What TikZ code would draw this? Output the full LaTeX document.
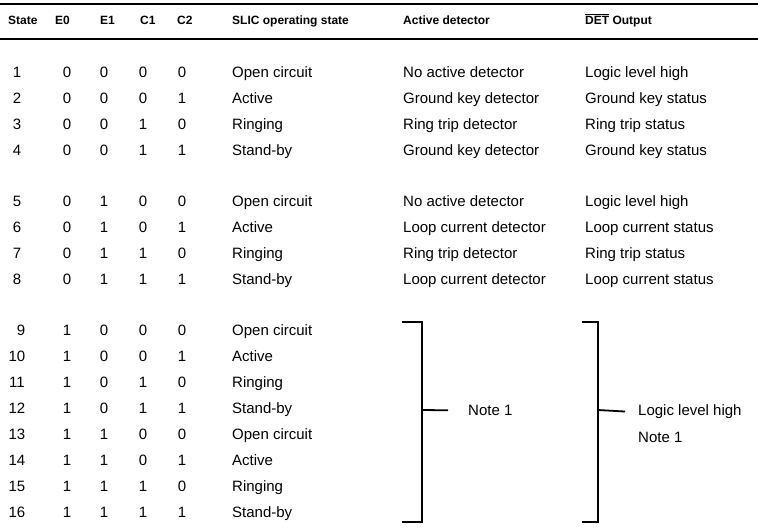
\documentclass[tikz,border=0pt]{standalone}
\usepackage{fontspec}
\setmainfont{Liberation Sans}
\begin{document}
\begin{tikzpicture}[x=1pt,y=-1pt,
    hd/.style={font=\fontsize{12}{14}\selectfont\bfseries,anchor=base west,inner sep=0pt},
    txt/.style={font=\fontsize{15}{18}\selectfont,anchor=base west,inner sep=0pt},
    num/.style={font=\fontsize{15}{18}\selectfont,anchor=base,inner sep=0pt},
    rule/.style={line width=1.4pt},
    bracket/.style={line width=1.8pt}]
  \useasboundingbox (0,0) rectangle (758,532);
  % header
  \draw[rule] (0,4) -- (758,4);
  \node[hd] (hstate) at (8,24.3) {State};
  \node[hd] (he0) at (55,24.3) {E0};
  \node[hd] (he1) at (100,24.3) {E1};
  \node[hd] (hc1) at (140,24.3) {C1};
  \node[hd] (hc2) at (177,24.3) {C2};
  \node[hd] (hslic) at (232,24.3) {SLIC operating state};
  \node[hd] (hdet) at (403,24.3) {Active detector};
  \node[hd] (hout) at (585,24.3) {$\overline{\mbox{DET}}$ Output};
  \draw[rule] (0,39) -- (758,39);
  % states 1 to 8
  \foreach \n/\yy/\a/\b/\c/\d/\mode/\det/\out in {
      1/72/0/0/0/0/Open circuit/No active detector/Logic level high,
      2/98/0/0/0/1/Active/Ground key detector/Ground key status,
      3/124/0/0/1/0/Ringing/Ring trip detector/Ring trip status,
      4/150/0/0/1/1/Stand-by/Ground key detector/Ground key status,
      5/201/0/1/0/0/Open circuit/No active detector/Logic level high,
      6/227/0/1/0/1/Active/Loop current detector/Loop current status,
      7/253/0/1/1/0/Ringing/Ring trip detector/Ring trip status,
      8/279/0/1/1/1/Stand-by/Loop current detector/Loop current status} {
    \node[num] (st\n) at (17,\yy+5.4) {\n};
    \node[num] (eA\n) at (67,\yy+5.4) {\a};
    \node[num] (eB\n) at (104,\yy+5.4) {\b};
    \node[num] (cA\n) at (143,\yy+5.4) {\c};
    \node[num] (cB\n) at (182,\yy+5.4) {\d};
    \node[txt] (mode\n) at (232,\yy+5.4) {\mode};
    \node[txt] (det\n) at (403,\yy+5.4) {\det};
    \node[txt] (out\n) at (585,\yy+5.4) {\out};
  }
  % states 9 to 16
  \foreach \n/\sx/\yy/\a/\b/\c/\d/\mode in {
      9/21/330/1/0/0/0/Open circuit,
      10/17/356/1/0/0/1/Active,
      11/17/382/1/0/1/0/Ringing,
      12/17/408/1/0/1/1/Stand-by,
      13/17/434/1/1/0/0/Open circuit,
      14/17/460/1/1/0/1/Active,
      15/17/486/1/1/1/0/Ringing,
      16/17/512/1/1/1/1/Stand-by} {
    \node[num] (st\n) at (\sx,\yy+5.4) {\n};
    \node[num] (eA\n) at (67,\yy+5.4) {\a};
    \node[num] (eB\n) at (104,\yy+5.4) {\b};
    \node[num] (cA\n) at (143,\yy+5.4) {\c};
    \node[num] (cB\n) at (182,\yy+5.4) {\d};
    \node[txt] (mode\n) at (232,\yy+5.4) {\mode};
  }
  % brackets
  \coordinate (lmid) at (422,410);
  \coordinate (rmid) at (598,410);
  \draw[bracket] (402,322) -- (422,322) -- (422,522) -- (402,522);
  \draw[bracket] (582,322) -- (598,322) -- (598,522) -- (582,522);
  \node[txt] (noteL) at (468,415.4) {Note 1};
  \node[txt] (high) at (638,415.4) {Logic level high};
  \node[txt] (noteR) at (638,442.4) {Note 1};
  \draw[bracket] (lmid) -- ([xshift=-20pt]noteL.west);
  \draw[bracket] (rmid) -- ([xshift=-13pt]high.west);
\end{tikzpicture}
\end{document}
